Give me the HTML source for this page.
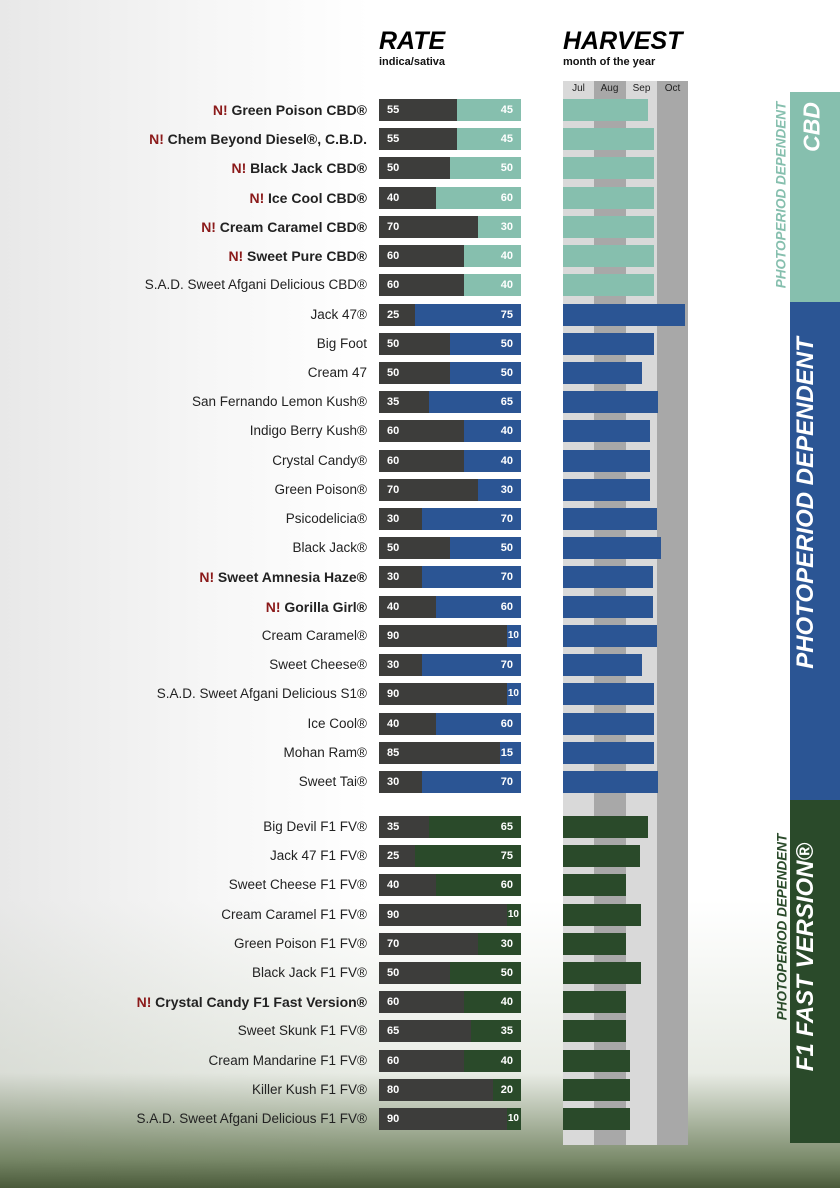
<!DOCTYPE html>
<html><head><meta charset="utf-8"><style>
*{margin:0;padding:0;box-sizing:border-box}
body{width:840px;height:1188px;position:relative;overflow:hidden;background:#fff;font-family:"Liberation Sans",sans-serif}
.bgl{position:absolute;left:0;top:0;width:370px;height:1188px;background:linear-gradient(90deg,#e8e8e8,#f7f7f7 60%,#fff)}
.bot{position:absolute;left:0;top:900px;width:840px;height:288px;background:linear-gradient(180deg,rgba(255,255,255,0),rgba(190,200,180,.35) 60%,rgba(90,110,70,.8) 90%,#4a5a3a)}
.r{position:absolute;left:0;width:840px;height:22px}
.n{position:absolute;right:473px;top:0;line-height:22px;font-size:13.5px;color:#222;white-space:nowrap}
.n b{font-size:14px}
.N{color:#8b1a1a}
.b{position:absolute;left:379px;top:0;width:142px;height:22px}
.b i{position:absolute;left:0;top:0;height:22px;background:#3d3d3b;font-style:normal;color:#fff;font-weight:bold;font-size:11px;line-height:22px;padding-left:8px}
.b s{position:absolute;right:8px;top:0;text-decoration:none;color:#fff;font-weight:bold;font-size:11px;line-height:22px}
.h{position:absolute;left:563px;top:0;height:22px}
.t{background:#86bfae}.u{background:#2b5594}.g{background:#2a4a2a}
.col{position:absolute;top:81px;height:1064px;width:32px}
.mh{position:absolute;top:81px;height:15px;width:31px;font-size:10px;text-align:center;line-height:15px;color:#222}
.rot{position:absolute;transform:translate(-50%,-50%) rotate(-90deg);white-space:nowrap;font-weight:bold;font-style:italic;text-align:center}
</style></head><body>
<div class="bgl"></div>
<div class="bot"></div>
<div style="position:absolute;left:379px;top:27px;font-size:25px;font-weight:900;font-style:italic;color:#000">RATE</div>
<div style="position:absolute;left:379px;top:56px;font-size:11px;font-weight:bold;color:#111">indica/sativa</div>
<div style="position:absolute;left:563px;top:27px;font-size:25px;font-weight:900;font-style:italic;color:#000">HARVEST</div>
<div style="position:absolute;left:563px;top:56px;font-size:11px;font-weight:bold;color:#111">month of the year</div>
<div class="col" style="left:563px;background:#d9d9d9"></div>
<div class="col" style="left:594px;background:#a8a8a8"></div>
<div class="col" style="left:626px;background:#d9d9d9"></div>
<div class="col" style="left:657px;background:#a8a8a8;width:31px"></div>
<div class="mh" style="left:563px">Jul</div><div class="mh" style="left:594px">Aug</div><div class="mh" style="left:626px">Sep</div><div class="mh" style="left:657px">Oct</div>

<div style="position:absolute;left:790px;top:92px;width:50px;height:210px;background:#86bfae"></div>
<div style="position:absolute;left:790px;top:302px;width:50px;height:498px;background:#2b5594"></div>
<div style="position:absolute;left:790px;top:800px;width:50px;height:343px;background:#2a4a2a"></div>
<div class="rot" style="left:812px;top:127px;font-size:23px;color:#fff">CBD</div>
<div class="rot" style="left:781px;top:195px;font-size:13.5px;color:#86bfae">PHOTOPERIOD DEPENDENT</div>
<div class="rot" style="left:806px;top:503px;font-size:24px;color:#fff">PHOTOPERIOD DEPENDENT</div>
<div class="rot" style="left:782px;top:927px;font-size:13.5px;color:#2a4a2a">PHOTOPERIOD DEPENDENT</div>
<div class="rot" style="left:806px;top:957px;font-size:24px;color:#fff">F1 FAST VERSION®</div>

<div class="r" style="top:99px"><span class="n"><b class="N">N!</b> <b>Green Poison CBD®</b></span><div class="b t"><i style="width:55%">55</i><s>45</s></div><div class="h t" style="width:85px"></div></div>
<div class="r" style="top:128px"><span class="n"><b class="N">N!</b> <b>Chem Beyond Diesel®, C.B.D.</b></span><div class="b t"><i style="width:55%">55</i><s>45</s></div><div class="h t" style="width:91px"></div></div>
<div class="r" style="top:157px"><span class="n"><b class="N">N!</b> <b>Black Jack CBD®</b></span><div class="b t"><i style="width:50%">50</i><s>50</s></div><div class="h t" style="width:91px"></div></div>
<div class="r" style="top:187px"><span class="n"><b class="N">N!</b> <b>Ice Cool CBD®</b></span><div class="b t"><i style="width:40%">40</i><s>60</s></div><div class="h t" style="width:91px"></div></div>
<div class="r" style="top:216px"><span class="n"><b class="N">N!</b> <b>Cream Caramel CBD®</b></span><div class="b t"><i style="width:70%">70</i><s>30</s></div><div class="h t" style="width:91px"></div></div>
<div class="r" style="top:245px"><span class="n"><b class="N">N!</b> <b>Sweet Pure CBD®</b></span><div class="b t"><i style="width:60%">60</i><s>40</s></div><div class="h t" style="width:91px"></div></div>
<div class="r" style="top:274px"><span class="n">S.A.D. Sweet Afgani Delicious CBD®</span><div class="b t"><i style="width:60%">60</i><s>40</s></div><div class="h t" style="width:91px"></div></div>
<div class="r" style="top:304px"><span class="n">Jack 47®</span><div class="b u"><i style="width:25%">25</i><s>75</s></div><div class="h u" style="width:122px"></div></div>
<div class="r" style="top:333px"><span class="n">Big Foot</span><div class="b u"><i style="width:50%">50</i><s>50</s></div><div class="h u" style="width:91px"></div></div>
<div class="r" style="top:362px"><span class="n">Cream 47</span><div class="b u"><i style="width:50%">50</i><s>50</s></div><div class="h u" style="width:79px"></div></div>
<div class="r" style="top:391px"><span class="n">San Fernando Lemon Kush®</span><div class="b u"><i style="width:35%">35</i><s>65</s></div><div class="h u" style="width:95px"></div></div>
<div class="r" style="top:420px"><span class="n">Indigo Berry Kush®</span><div class="b u"><i style="width:60%">60</i><s>40</s></div><div class="h u" style="width:87px"></div></div>
<div class="r" style="top:450px"><span class="n">Crystal Candy®</span><div class="b u"><i style="width:60%">60</i><s>40</s></div><div class="h u" style="width:87px"></div></div>
<div class="r" style="top:479px"><span class="n">Green Poison®</span><div class="b u"><i style="width:70%">70</i><s>30</s></div><div class="h u" style="width:87px"></div></div>
<div class="r" style="top:508px"><span class="n">Psicodelicia®</span><div class="b u"><i style="width:30%">30</i><s>70</s></div><div class="h u" style="width:94px"></div></div>
<div class="r" style="top:537px"><span class="n">Black Jack®</span><div class="b u"><i style="width:50%">50</i><s>50</s></div><div class="h u" style="width:98px"></div></div>
<div class="r" style="top:566px"><span class="n"><b class="N">N!</b> <b>Sweet Amnesia Haze®</b></span><div class="b u"><i style="width:30%">30</i><s>70</s></div><div class="h u" style="width:90px"></div></div>
<div class="r" style="top:596px"><span class="n"><b class="N">N!</b> <b>Gorilla Girl®</b></span><div class="b u"><i style="width:40%">40</i><s>60</s></div><div class="h u" style="width:90px"></div></div>
<div class="r" style="top:625px"><span class="n">Cream Caramel®</span><div class="b u"><i style="width:90%">90</i><s style="right:2px;font-size:10px">10</s></div><div class="h u" style="width:94px"></div></div>
<div class="r" style="top:654px"><span class="n">Sweet Cheese®</span><div class="b u"><i style="width:30%">30</i><s>70</s></div><div class="h u" style="width:79px"></div></div>
<div class="r" style="top:683px"><span class="n">S.A.D. Sweet Afgani Delicious S1®</span><div class="b u"><i style="width:90%">90</i><s style="right:2px;font-size:10px">10</s></div><div class="h u" style="width:91px"></div></div>
<div class="r" style="top:713px"><span class="n">Ice Cool®</span><div class="b u"><i style="width:40%">40</i><s>60</s></div><div class="h u" style="width:91px"></div></div>
<div class="r" style="top:742px"><span class="n">Mohan Ram®</span><div class="b u"><i style="width:85%">85</i><s>15</s></div><div class="h u" style="width:91px"></div></div>
<div class="r" style="top:771px"><span class="n">Sweet Tai®</span><div class="b u"><i style="width:30%">30</i><s>70</s></div><div class="h u" style="width:95px"></div></div>

<div class="r" style="top:816px"><span class="n">Big Devil F1 FV®</span><div class="b g"><i style="width:35%">35</i><s>65</s></div><div class="h g" style="width:85px"></div></div>
<div class="r" style="top:845px"><span class="n">Jack 47 F1 FV®</span><div class="b g"><i style="width:25%">25</i><s>75</s></div><div class="h g" style="width:77px"></div></div>
<div class="r" style="top:874px"><span class="n">Sweet Cheese F1 FV®</span><div class="b g"><i style="width:40%">40</i><s>60</s></div><div class="h g" style="width:63px"></div></div>
<div class="r" style="top:904px"><span class="n">Cream Caramel F1 FV®</span><div class="b g"><i style="width:90%">90</i><s style="right:2px;font-size:10px">10</s></div><div class="h g" style="width:78px"></div></div>
<div class="r" style="top:933px"><span class="n">Green Poison F1 FV®</span><div class="b g"><i style="width:70%">70</i><s>30</s></div><div class="h g" style="width:63px"></div></div>
<div class="r" style="top:962px"><span class="n">Black Jack F1 FV®</span><div class="b g"><i style="width:50%">50</i><s>50</s></div><div class="h g" style="width:78px"></div></div>
<div class="r" style="top:991px"><span class="n"><b class="N">N!</b> <b>Crystal Candy F1 Fast Version®</b></span><div class="b g"><i style="width:60%">60</i><s>40</s></div><div class="h g" style="width:63px"></div></div>
<div class="r" style="top:1020px"><span class="n">Sweet Skunk F1 FV®</span><div class="b g"><i style="width:65%">65</i><s>35</s></div><div class="h g" style="width:63px"></div></div>
<div class="r" style="top:1050px"><span class="n">Cream Mandarine F1 FV®</span><div class="b g"><i style="width:60%">60</i><s>40</s></div><div class="h g" style="width:67px"></div></div>
<div class="r" style="top:1079px"><span class="n">Killer Kush F1 FV®</span><div class="b g"><i style="width:80%">80</i><s>20</s></div><div class="h g" style="width:67px"></div></div>
<div class="r" style="top:1108px"><span class="n">S.A.D. Sweet Afgani Delicious F1 FV®</span><div class="b g"><i style="width:90%">90</i><s style="right:2px;font-size:10px">10</s></div><div class="h g" style="width:67px"></div></div>
</body></html>
